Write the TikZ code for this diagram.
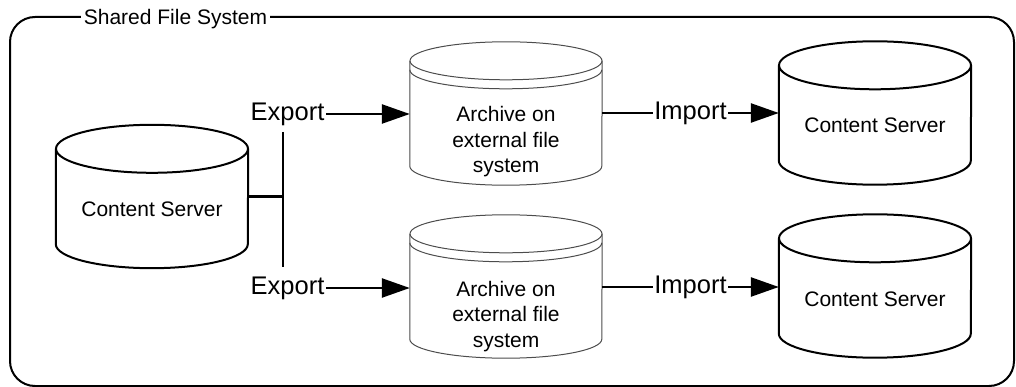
\documentclass[tikz,border=0pt]{standalone}
\usepackage{fontspec}
\setmainfont{Liberation Sans}
\usetikzlibrary{arrows.meta,positioning,calc}

% drum outline round a named node: node, y radius, line style
\newcommand{\drawdrum}[3]{%
  \draw[#3] ($(#1.north)+(0,#2)$) ellipse [x radius=96, y radius=#2];
  \draw[#3] ($(#1.north west)+(0,#2)$) -- ($(#1.south west)+(0,-#2)$)
    arc [start angle=180, end angle=0, x radius=96, y radius=#2]
    -- ($(#1.north east)+(0,#2)$);
}
% archive drum has a second rim below the lid
\newcommand{\drawarchive}[3]{%
  \drawdrum{#1}{#2}{#3}
  \draw[#3] ($(#1.north west)+(0,#2+9)$)
    arc [start angle=180, end angle=0, x radius=96, y radius=#2];
}

\tikzset{
  drum/.style={minimum width=192pt, minimum height=143pt, inner sep=0pt},
  drumtext/.style={font=\fontsize{21}{25.5}\selectfont, align=center, inner sep=0pt},
  serverline/.style={line width=2pt, black},
  archiveline/.style={line width=1pt, black!70},
  flowlabel/.style={font=\fontsize{25.5}{30}\selectfont, inner xsep=1.5pt, inner ysep=0pt},
  flow/.style={line width=2.5pt, black},
  flowarrow/.style={flow, -{Triangle[length=28pt, width=19pt]}},
  frame/.style={line width=2pt, rounded corners=25pt},
  framelabel/.style={font=\fontsize{21}{25}\selectfont, fill=white, inner xsep=2.5pt, inner ysep=1pt}
}

\begin{document}
\begin{tikzpicture}[x=1pt, y=-1pt]
  \useasboundingbox (0,0) rectangle (1016,387);
  % Shared file system frame
  \draw[frame] (10,17) rectangle (1014,386);
  \node[framelabel] (fslabel) at (175.5,19.5) {Shared File System};
  % Drums
  \node[drum] (cs1) at (152,196.5) {};
  \node[drum] (arc1) at (506,113.5) {};
  \node[drum] (arc2) at (506,286.5) {};
  \node[drum] (cs2) at (875,113) {};
  \node[drum] (cs3) at (875,286) {};
  \drawdrum{cs1}{24}{serverline}
  \drawdrum{cs2}{24}{serverline}
  \drawdrum{cs3}{24}{serverline}
  \drawarchive{arc1}{19}{archiveline}
  \drawarchive{arc2}{19}{archiveline}
  % Drum texts
  \node[drumtext] (cs1txt) at ($(cs1)+(0,12.5)$) {Content Server};
  \node[drumtext] (cs2txt) at ($(cs2)+(0,12)$) {Content Server};
  \node[drumtext] (cs3txt) at ($(cs3)+(0,13)$) {Content Server};
  \node[drumtext] (arc1txt) at ($(arc1)+(0,28.5)$) {Archive on\\external file\\system};
  \node[drumtext] (arc2txt) at ($(arc2)+(0,30)$) {Archive on\\external file\\system};
  % Export and import labels
  \node[flowlabel] (exp1) at (287.5,114) {Export};
  \node[flowlabel] (exp2) at (287.5,288) {Export};
  \node[flowlabel] (imp1) at (690.5,113) {Import};
  \node[flowlabel] (imp2) at (690.5,287) {Import};
  % Bus from the left server
  \coordinate (bustop) at (283,132);
  \coordinate (busbot) at (283,267);
  \draw[flow] (bustop) -- (busbot);
  \draw[flow] (cs1.east) -- (cs1.east -| bustop);
  % Export arrows
  \draw[flowarrow] (exp1) -- (exp1 -| arc1.west);
  \draw[flowarrow] (exp2) -- (exp2 -| arc2.west);
  % Import arrows
  \draw[flow] (imp1 -| arc1.east) -- (imp1);
  \draw[flowarrow] (imp1) -- (imp1 -| cs2.west);
  \draw[flow] (imp2 -| arc2.east) -- (imp2);
  \draw[flowarrow] (imp2) -- (imp2 -| cs3.west);
\end{tikzpicture}
\end{document}
